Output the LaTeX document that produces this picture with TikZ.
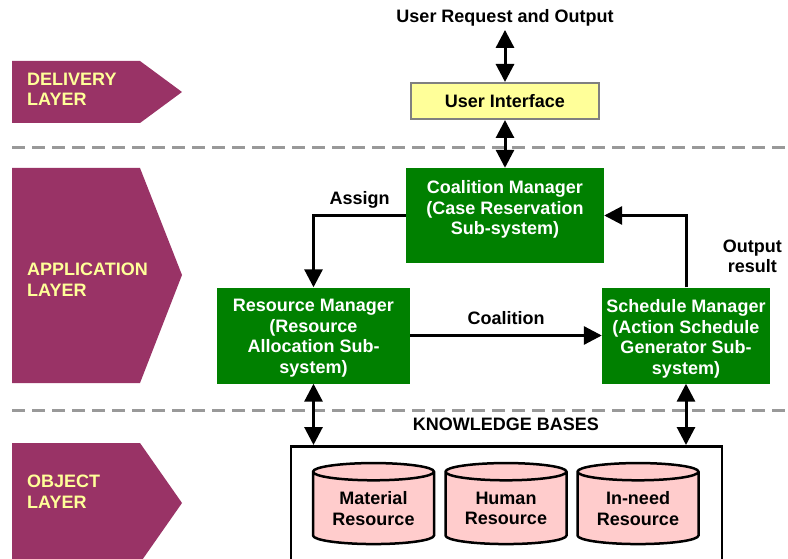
\documentclass[tikz,border=0pt]{standalone}
\usepackage{fontspec}
\setmainfont{Liberation Sans}
\usetikzlibrary{positioning,shapes.geometric,arrows.meta}
\definecolor{layerred}{HTML}{993366}
\definecolor{layeryel}{HTML}{FFFF99}
\definecolor{mgrgreen}{HTML}{008000}
\definecolor{kbpink}{HTML}{FFCCCC}
\definecolor{sepgray}{HTML}{999999}
\tikzset{
  every node/.style={font=\fontsize{18}{20.5}\selectfont\bfseries},
  layer/.style={text=layeryel, align=left, anchor=west, inner sep=0pt},
  sep/.style={sepgray, line width=3pt, dash pattern=on 13pt off 7pt},
  ui/.style={fill=layeryel, draw=gray, line width=2pt, minimum width=188pt, minimum height=36pt},
  mgr/.style={fill=mgrgreen, inner sep=0pt},
  mgrtxt/.style={text=white, align=center, inner sep=0pt},
  kbbox/.style={draw, line width=2.5pt, anchor=north, minimum width=431pt, minimum height=200pt},
  db/.style={cylinder, shape border rotate=90, shape aspect=0.21, draw, line width=2.5pt,
    fill=kbpink, align=center, minimum width=121pt, minimum height=81pt, inner sep=0pt},
  conn/.style={line width=3pt, -{Triangle[length=18pt,width=18pt]}},
  dbl/.style={line width=3pt, {Triangle[length=18pt,width=18pt]}-{Triangle[length=18pt,width=18pt]}}
}
\begin{document}
\begin{tikzpicture}[x=1pt,y=-1pt]
\useasboundingbox (0,0) rectangle (788,559);
% layer tags
\fill[layerred] (12,61) -- (140,61) -- (182,92) -- (140,123) -- (12,123) -- cycle;
\fill[layerred] (12,168) -- (140,168) -- (182,275) -- (140,383) -- (12,383) -- cycle;
\fill[layerred] (12,443) -- (140,443) -- (182,503) -- (140,563) -- (12,563) -- cycle;
\node[layer] (dlayer) at (27,89.5) {DELIVERY\\LAYER};
\node[layer] (alayer) at (27,279.5) {APPLICATION\\LAYER};
\node[layer] (olayer) at (27,491.5) {OBJECT\\LAYER};
\draw[sep] (12,148) -- (788,148);
\draw[sep] (12,410) -- (788,410);
% delivery
\node (req) at (505,18) {User Request and Output};
\node[ui] (ui) at (505,101) {User Interface};
% application
\node[mgr, minimum width=198pt, minimum height=95pt] (cm) at (505,215.5) {};
\node[mgrtxt, below=12.5pt of cm.north] (cmtxt) {Coalition Manager\\(Case Reservation\\Sub-system)};
\node[mgr, minimum width=193pt, minimum height=96pt] (rm) at (313.5,335.5) {};
\node[mgrtxt, below=12pt of rm.north] (rmtxt) {Resource Manager\\(Resource\\Allocation Sub-\\system)};
\node[mgr, minimum width=168pt, minimum height=96pt] (sm) at (686,335.5) {};
\node[mgrtxt, below=12pt of sm.north] (smtxt) {Schedule Manager\\(Action Schedule\\Generator Sub-\\system)};
% object
\node (kblabel) at (506,424) {KNOWLEDGE BASES};
\node[kbbox] (kb) at (506.5,445) {};
\node[db] (mat) at (373.5,508.5) {Material\\Resource};
\node[db] (hum) at (506,508.5) {Human\\Resource};
\node[db] (need) at (638,508.5) {In-need\\Resource};
% connectors
\draw[dbl] (req.south) -- (ui.north);
\draw[dbl] (ui.south) -- (cm.north);
\draw[conn] (cm.west) -| node[above=2pt, pos=0.25] {Assign} (rm.north);
\draw[conn] (sm.north) |- node[right=32pt, pos=0.215, align=center] {Output\\result} (cm.east);
\draw[conn] (rm.east) -- node[above=6pt] {Coalition} (sm.west);
\draw[dbl] (rm.south) -- (rm.south |- kb.north);
\draw[dbl] (sm.south) -- (sm.south |- kb.north);
\end{tikzpicture}
\end{document}
